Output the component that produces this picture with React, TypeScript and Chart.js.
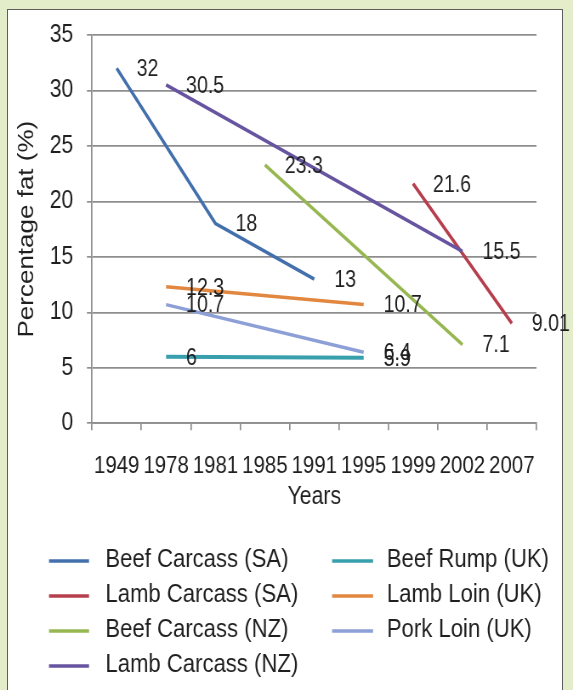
import React, { useEffect, useRef } from 'react';
import { Chart, registerables } from 'chart.js';

Chart.register(...registerables);

// ---- data ----
const categories = ['1949', '1978', '1981', '1985', '1991', '1995', '1999', '2002', '2007'];

const beefCarcassSA = [32, null, 18, null, 13, null, null, null, null];
const lambCarcassSA = [null, null, null, null, null, null, 21.6, null, 9.01];
const beefCarcassNZ = [null, null, null, 23.3, null, null, null, 7.1, null];
const lambCarcassNZ = [null, 30.5, null, null, null, null, null, 15.5, null];
const beefRumpUK = [null, 6, null, null, null, 5.9, null, null, null];
const lambLoinUK = [null, 12.3, null, null, null, 10.7, null, null, null];
const porkLoinUK = [null, 10.7, null, null, null, 6.4, null, null, null];

const seriesNames = [
  'Beef Carcass (SA)',
  'Lamb Carcass (SA)',
  'Beef Carcass (NZ)',
  'Lamb Carcass (NZ)',
  'Beef Rump (UK)',
  'Lamb Loin (UK)',
  'Pork Loin (UK)',
];
const seriesValues = [
  beefCarcassSA,
  lambCarcassSA,
  beefCarcassNZ,
  lambCarcassNZ,
  beefRumpUK,
  lambLoinUK,
  porkLoinUK,
];
const seriesColors = ['#4370ad', '#b63f4d', '#96b752', '#6654a0', '#37a0ac', '#e2873f', '#8c9fd6'];

const yTicks = { min: 0, max: 35, step: 5 };

// ---- layout constants ----
const PAGE_W = 573;
const PAGE_H = 690;
const CANVAS_W = 674;
const SQUISH = PAGE_W / CANVAS_W;
const FONT = "'Liberation Sans', Arial, sans-serif";
const TEXT = '#1f1f1f';
const GRID = '#8e8e8e';

const dataLabelPlugin = {
  id: 'dataLabels',
  afterDatasetsDraw(chart: any) {
    const ctx = chart.ctx;
    ctx.save();
    ctx.font = `23px ${FONT}`;
    ctx.fillStyle = TEXT;
    ctx.textAlign = 'left';
    ctx.textBaseline = 'middle';
    chart.data.datasets.forEach((ds: any, di: number) => {
      const meta = chart.getDatasetMeta(di);
      ds.data.forEach((v: any, i: number) => {
        if (v === null || v === undefined) return;
        const el = meta.data[i];
        ctx.fillText(String(v), el.x + 23.5, el.y + 1.5);
      });
    });
    ctx.restore();
  },
};

const legendPlugin = {
  id: 'twoColumnLegend',
  afterDraw(chart: any) {
    const ctx = chart.ctx;
    const cols = [
      { x0: 57.6, x1: 104.7, tx: 124 },
      { x0: 390.6, x1: 438.8, tx: 455 },
    ];
    const rowY = [560, 595, 630, 665];
    ctx.save();
    ctx.font = `26px ${FONT}`;
    ctx.textAlign = 'left';
    ctx.textBaseline = 'middle';
    chart.data.datasets.forEach((ds: any, i: number) => {
      const c = cols[Math.floor(i / 4)];
      const y = rowY[i % 4];
      ctx.strokeStyle = ds.borderColor;
      ctx.lineWidth = 3.5;
      ctx.beginPath();
      ctx.moveTo(c.x0, y + 1);
      ctx.lineTo(c.x1, y + 1);
      ctx.stroke();
      ctx.fillStyle = TEXT;
      ctx.fillText(ds.label, c.tx, y);
    });
    ctx.restore();
  },
};

export default function App() {
  const canvasRef = useRef<HTMLCanvasElement | null>(null);

  useEffect(() => {
    if (!canvasRef.current) return;
    const chart = new Chart(canvasRef.current, {
      type: 'line',
      data: {
        labels: categories,
        datasets: seriesValues.map((vals, i) => ({
          label: seriesNames[i],
          data: vals,
          borderColor: seriesColors[i],
          backgroundColor: seriesColors[i],
          borderWidth: i === 4 ? 4 : 3.5,
          pointRadius: 0,
          pointHoverRadius: 0,
          spanGaps: true,
          tension: 0,
          fill: false,
          order: seriesValues.length - i,
        })),
      },
      options: {
        responsive: false,
        animation: false,
        devicePixelRatio: 1,
        layout: { padding: { left: 0, top: 35, right: CANVAS_W - 631.1, bottom: 178 } },
        plugins: {
          legend: { display: false },
          tooltip: { enabled: false },
        },
        scales: {
          x: {
            type: 'category',
            offset: true,
            grid: {
              display: true,
              drawOnChartArea: false,
              drawTicks: true,
              tickLength: 7,
              offset: true,
              color: GRID,
              lineWidth: 1.7,
            },
            border: { display: true, color: GRID, width: 1.7 },
            ticks: {
              font: { family: FONT, size: 24 },
              color: TEXT,
              padding: 21.3,
              maxRotation: 0,
              minRotation: 0,
              autoSkip: false,
            },
            title: {
              display: true,
              text: 'Years',
              font: { family: FONT, size: 25 },
              color: TEXT,
              padding: { top: 0, bottom: 0 },
            },
            afterFit: (s: any) => {
              s.height = 88.7;
            },
          },
          y: {
            min: yTicks.min,
            max: yTicks.max,
            ticks: {
              stepSize: yTicks.step,
              font: { family: FONT, size: 25 },
              color: TEXT,
              padding: 16,
            },
            grid: { color: GRID, lineWidth: 1.7, tickLength: 6, drawTicks: true },
            border: { display: true, color: GRID, width: 1.7 },
            title: {
              display: true,
              text: 'Percentage fat (%)',
              font: { family: FONT, size: 26 },
              color: TEXT,
              padding: { top: 16.2, bottom: 0 },
            },
            afterFit: (s: any) => {
              s.width = 108.2;
            },
          },
        },
      },
      plugins: [dataLabelPlugin, legendPlugin],
    } as any);
    return () => chart.destroy();
  }, []);

  return (
    <div
      style={{
        position: 'fixed',
        left: 0,
        top: 0,
        width: PAGE_W,
        height: PAGE_H,
        background: '#e3edc9',
        overflow: 'hidden',
      }}
    >
      <div
        style={{
          position: 'absolute',
          left: 7,
          top: 9,
          width: 556,
          height: PAGE_H + 20,
          background: '#ffffff',
          borderLeft: '1.5px solid #5e5e5e',
          borderTop: '1.5px solid #5e5e5e',
          borderRight: '1.5px solid #5e5e5e',
          boxSizing: 'border-box',
        }}
      />
      <div
        style={{
          position: 'absolute',
          left: 0,
          top: 0,
          width: CANVAS_W,
          height: PAGE_H,
          transform: `scaleX(${SQUISH})`,
          transformOrigin: '0 0',
        }}
      >
        <canvas ref={canvasRef} width={CANVAS_W} height={PAGE_H} style={{ display: 'block' }} />
      </div>
    </div>
  );
}
